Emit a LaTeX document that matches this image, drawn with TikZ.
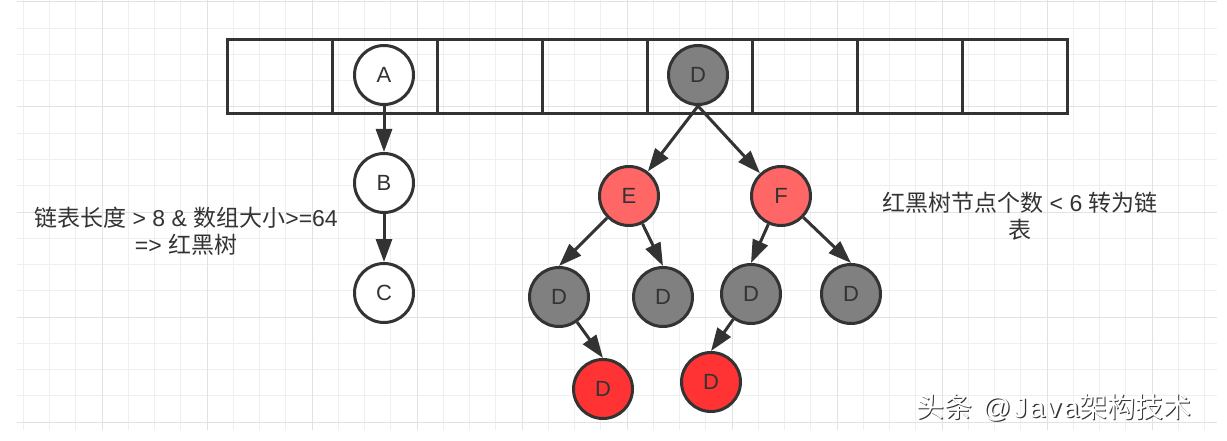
\documentclass[tikz,border=0pt]{standalone}
\usepackage{fontspec}
\setmainfont{Liberation Sans}
\newfontfamily\cjk{Noto Sans CJK SC}
\usetikzlibrary{arrows.meta}
\definecolor{ink}{HTML}{333333}
\definecolor{gridminor}{HTML}{EFEFEF}
\definecolor{gridmajor}{HTML}{E2E2E2}
\definecolor{nodegray}{HTML}{808080}
\definecolor{lightred}{HTML}{FF6666}
\definecolor{deepred}{HTML}{FF3333}
\begin{document}
\begin{tikzpicture}[x=1pt,y=-1pt,
  cell/.style={draw=ink,line width=3pt,minimum width=105pt,minimum height=74pt,inner sep=0pt},
  vertex/.style={circle,draw=ink,line width=3pt,minimum size=59pt,inner sep=0pt,font=\fontsize{22}{22}\selectfont,text=ink},
  wnode/.style={vertex,fill=white},
  gnode/.style={vertex,fill=nodegray},
  lnode/.style={vertex,fill=lightred},
  rnode/.style={vertex,fill=deepred},
  link/.style={draw=ink,line width=3pt,-{Triangle[length=23pt,width=16pt]}},
  note/.style={align=center,text=ink,font=\fontsize{23}{27}\selectfont},
  wmark/.style={anchor=base west,font=\fontsize{28}{28}\selectfont\addfontfeature{LetterSpace=8}}]
\useasboundingbox (0,0) rectangle (1227,441);
\fill[white] (0,0) rectangle (1227,441);
% grid
\foreach \i in {0,...,45} \draw[gridminor,line width=1pt] ({23.25+26.25*\i},0) -- ({23.25+26.25*\i},430);
\foreach \j in {0,...,16} \draw[gridminor,line width=1pt] (17,{2+26.25*\j}) -- (1217,{2+26.25*\j});
\foreach \i in {0,...,10} \draw[gridmajor,line width=1pt] ({102+105*\i},0) -- ({102+105*\i},430);
\foreach \j in {0,...,4} \draw[gridmajor,line width=1pt] (17,{2+105*\j}) -- (1217,{2+105*\j});
% array
\foreach \k in {0,...,7} \node[cell] (cell\k) at ({279.5+105*\k},77) {};
% nodes
\node[wnode] (A) at (384,75) {A};
\node[wnode] (B) at (384,183) {B};
\node[wnode] (C) at (384,293) {C};
\node[gnode] (D0) at (698,75) {D};
\node[lnode] (E) at (629,196) {E};
\node[lnode] (F) at (781,196) {F};
\node[gnode] (D1) at (559,297) {D};
\node[gnode] (D2) at (663,297) {D};
\node[gnode] (D3) at (751,294) {D};
\node[gnode] (D4) at (851,294) {D};
\node[rnode] (D5) at (603,389) {D};
\node[rnode] (D6) at (711,382) {D};
% edges
\draw[link] (A) -- (B);
\draw[link] (B) -- (C);
\draw[link] (D0.south) -- (E);
\draw[link] (D0.south) -- (F);
\draw[link] (E) -- (D1.north);
\draw[link] (E) -- (D2.north);
\draw[link] (F) -- (D3.north);
\draw[link] (F) -- (D4.north);
\draw[link] (D1) -- (D5.north);
\draw[link] (D3) -- (D6.north);
% notes
\node[note] (n1) at (186,231) {{\cjk 链表长度} > 8 \& {\cjk 数组大小}>=64\\=> {\cjk 红黑树}};
\node[note] (n2) at (1020,216) {{\cjk 红黑树节点个数} < 6 {\cjk 转为链}\\{\cjk 表}};
% watermark
\node[wmark,text=black!80] (wms) at (914.3,418.3) {{\cjk 头条} @Java{\cjk 架构技术}};
\node[wmark,text=white] (wm) at (913,417) {{\cjk 头条} @Java{\cjk 架构技术}};
\end{tikzpicture}
\end{document}
